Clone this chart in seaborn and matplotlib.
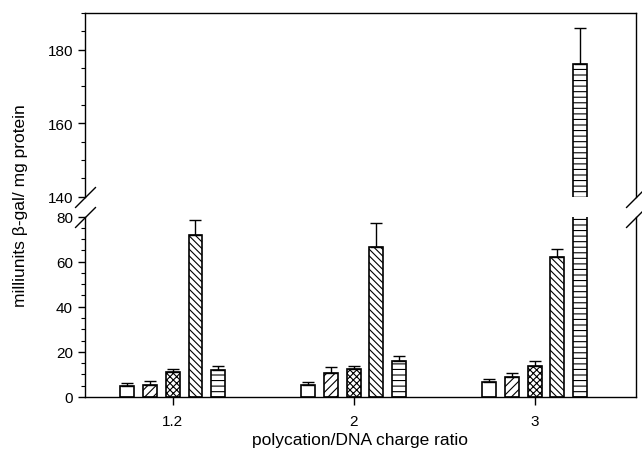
import matplotlib
matplotlib.use("Agg")
import matplotlib.pyplot as plt
import numpy as np
import pandas as pd
import seaborn as sns
from matplotlib.ticker import MultipleLocator

# charge ratios (x categories)
ratios = ["1.2", "2", "3"]
series = ["open", "diag_up", "cross", "diag_down", "horizontal"]

# mean values per series, one per ratio
open_vals = [4.7, 5.3, 6.8]
diag_up_vals = [5.1, 10.7, 8.9]
cross_vals = [11.1, 12.2, 13.9]
diag_down_vals = [71.8, 66.3, 62.0]
horizontal_vals = [11.8, 16.0, 176.0]

# upper error sizes
open_err = [1.5, 1.5, 1.2]
diag_up_err = [1.8, 2.6, 1.8]
cross_err = [1.1, 1.3, 2.1]
diag_down_err = [6.8, 11.0, 3.5]
horizontal_err = [1.7, 2.0, 10.0]

values = [open_vals, diag_up_vals, cross_vals, diag_down_vals, horizontal_vals]
errors = [open_err, diag_up_err, cross_err, diag_down_err, horizontal_err]
hatches = ["", "////", "xxxxx", "\\\\\\\\\\", "---"]

df = pd.DataFrame({
    "ratio": np.tile(ratios, len(series)),
    "series": np.repeat(series, len(ratios)),
    "value": np.concatenate(values),
})

sns.set_style("ticks")
plt.rcParams["font.family"] = ["Liberation Sans", "DejaVu Sans"]
plt.rcParams["hatch.linewidth"] = 0.8
for key in ("text.color", "axes.labelcolor", "xtick.color", "ytick.color", "axes.edgecolor"):
    plt.rcParams[key] = "black"

fig = plt.figure(figsize=(6.42, 4.60), dpi=100)
ax_top = fig.add_axes([0.132, 0.570, 0.858, 0.400])
ax_bot = fig.add_axes([0.132, 0.135, 0.858, 0.392])

for ax in (ax_top, ax_bot):
    sns.barplot(data=df, x="ratio", y="value", hue="series", order=ratios,
                hue_order=series, width=0.63, gap=0.39,
                palette=["white"] * len(series), edgecolor="black",
                linewidth=1.2, errorbar=None, legend=False, ax=ax)
    for cont, hatch, err in zip(ax.containers, hatches, errors):
        xs, ys = [], []
        for bar in cont:
            bar.set_hatch(hatch)
            xs.append(bar.get_x() + bar.get_width() / 2)
            ys.append(bar.get_height())
        ax.errorbar(xs, ys, yerr=[np.zeros(len(err)), err], fmt="none",
                    ecolor="black", elinewidth=1.0, capsize=4, capthick=1.0)
    ax.set_xlim(-0.486, 2.558)
    ax.set_xlabel("")
    ax.set_ylabel("")
    ax.tick_params(axis="both", direction="out", length=5, width=1, labelsize=11)
    ax.tick_params(axis="x", length=6, pad=6)
    ax.tick_params(axis="y", which="minor", direction="out", length=3, width=0.8)
    ax.yaxis.set_major_locator(MultipleLocator(20))
    ax.yaxis.set_minor_locator(MultipleLocator(5))
    for sp in ax.spines.values():
        sp.set_linewidth(1.0)

ax_top.set_ylim(140, 190)
ax_bot.set_ylim(0, 80)

ax_top.spines["bottom"].set_visible(False)
ax_top.tick_params(axis="x", bottom=False, labelbottom=False)
ax_bot.spines["top"].set_visible(False)

# break marks
kw = dict(marker=[(-1, -1), (1, 1)], markersize=15, linestyle="none",
          color="black", mec="black", mew=1.0, clip_on=False)
ax_top.plot([0, 1], [0, 0], transform=ax_top.transAxes, **kw)
ax_bot.plot([0, 1], [1, 1], transform=ax_bot.transAxes, **kw)

fig.text(0.032, 0.552, "milliunits β-gal/ mg protein", rotation=90,
         ha="center", va="center", fontsize=12.5)
fig.text(0.561, 0.043, "polycation/DNA charge ratio", ha="center",
         va="center", fontsize=12.5)

fig.savefig("out.png", dpi=100)
